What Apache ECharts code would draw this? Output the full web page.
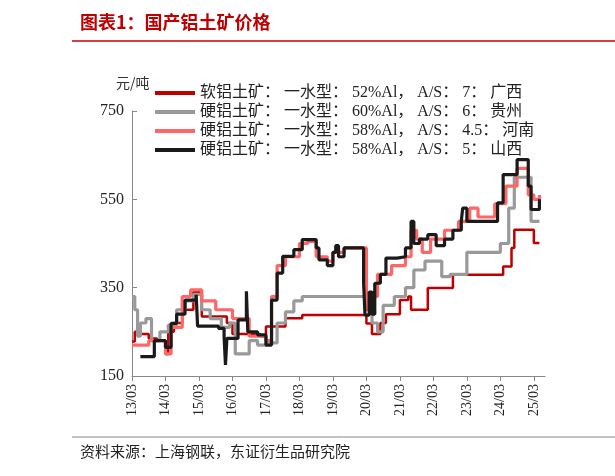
<!DOCTYPE html>
<html><head><meta charset="utf-8">
<script src="https://cdn.jsdelivr.net/npm/echarts@6/dist/echarts.min.js"></script>
<style>body{margin:0;background:#fff}#c{width:615px;height:476px}</style>
</head><body><div id="c"></div>
<script>
const names = ['软铝土矿： 一水型： 52%Al， A/S： 7： 广西','硬铝土矿： 一水型： 60%Al， A/S： 6： 贵州','硬铝土矿： 一水型： 58%Al， A/S： 4.5： 河南','硬铝土矿： 一水型： 58%Al， A/S： 5： 山西'];
// x = months since 2013-03
const redM = [0,1,3,6,9,12,13,15,18,22,25,34,36,46,48,55,61,84,86,89,91,96,99,100,106,115,133,136,137,144,146];
const redV = [228,250,245,235,230,200,250,270,300,340,285,270,245,240,262,281,288,269,245,270,290,322,330,300,349,379,398,440,481,451,451];
const grayM = [0,1,2,3,5,7,10,13,16,19,22,25,28,32,35,37,42,45,48,52,55,58,61,84,86,88,90,94,98,101,105,111,114,120,132,135,137,143,146];
const grayV = [330,300,240,270,280,230,250,265,300,320,335,300,280,260,270,200,230,220,225,270,295,320,330,320,270,250,310,330,350,390,410,375,380,430,450,530,600,500,500];
const pinkM = [0,6,12,14,18,21,25,30,36,42,48,50,52,55,60,63,66,70,72,76,82,84,86,88,93,98,100,102,104,107,112,117,121,124,130,134,138,141,142,144,146];
const pinkV = [220,230,200,260,330,345,320,300,280,240,230,330,400,420,450,455,420,410,430,440,440,300,330,380,400,420,480,460,430,460,480,500,530,510,540,580,620,620,560,550,560];
const blackM = [3,8,12,14,16,19,23,23.5,31,33,33.5,34,38,41,41.5,45,48,50,52,54,58,61,66,67,70,72,73,74,76,82,83,83.5,85,86,87,89,91,95,98,100,101,103,106,109,112,115,118,118.5,120,130,131,133,138,142,143,146];
const blackV = [194,230,215,269,290,322,334,263,258,239,175,235,277,342,250,243,220,322,383,421,436,459,440,413,400,430,445,420,440,440,360,288,340,290,360,380,417,420,440,500,450,460,470,445,460,480,500,530,500,500,542,606,640,580,527,550];
const yTicks = [150,350,550,750];
const colors = ['#c00000','#999999','#ff6666','#1a1a1a'];
const pairs = (m,v)=>m.map((x,i)=>[x,v[i]]);
const dataSets = [pairs(redM,redV),pairs(grayM,grayV),pairs(pinkM,pinkV),pairs(blackM,blackV)];
const serif = 'Liberation Serif, Noto Sans CJK SC';
const chart = echarts.init(document.getElementById('c'));
chart.setOption({
  animation:false,
  graphic:[
    {type:'text',left:80,top:13,style:{text:'图表1：国产铝土矿价格',fill:'#c00000',font:'bold 18px "Noto Sans CJK SC"'}},
    {type:'line',shape:{x1:72,y1:41,x2:615,y2:41},style:{stroke:'#c00000',lineWidth:1.5}},
    {type:'line',shape:{x1:72,y1:437,x2:615,y2:437},style:{stroke:'#888',lineWidth:1}},
    {type:'text',left:80,top:444,style:{text:'资料来源：上海钢联，东证衍生品研究院',fill:'#222',font:'15px "Noto Sans CJK SC"'}},
    {type:'text',left:116,top:76,style:{text:'元/吨',fill:'#333',font:'14px "Noto Sans CJK SC"'}}
  ],
  legend:{orient:'vertical',left:150,top:80,itemGap:3,itemWidth:40,itemHeight:4,icon:'rect',
    textStyle:{fontFamily:serif,fontSize:16,color:'#222'},data:names},
  grid:{left:132,right:70,top:111,bottom:100},
  xAxis:{type:'value',min:0,max:148,interval:12,
    axisLine:{lineStyle:{color:'#888'}},axisTick:{show:true,lineStyle:{color:'#888'}},splitLine:{show:false},
    axisLabel:{rotate:90,color:'#222',fontFamily:serif,fontSize:14,showMaxLabel:false,
      formatter:v=>{if(v%12)return '';const y=13+v/12;return (y<10?'0':'')+y+'/03';}}},
  yAxis:{type:'value',min:150,max:750,interval:200,
    axisLine:{show:true,lineStyle:{color:'#888'}},axisTick:{show:true,inside:true,lineStyle:{color:'#888'}},splitLine:{show:false},
    axisLabel:{color:'#222',fontFamily:serif,fontSize:16,formatter:v=>yTicks.includes(v)?String(v):''}},
  series:dataSets.map((d,i)=>({name:names[i],type:'line',step:'end',showSymbol:false,data:d,
    lineStyle:{color:colors[i],width:i==0?2.5:3.2},itemStyle:{color:colors[i]}}))
});
</script></body></html>
